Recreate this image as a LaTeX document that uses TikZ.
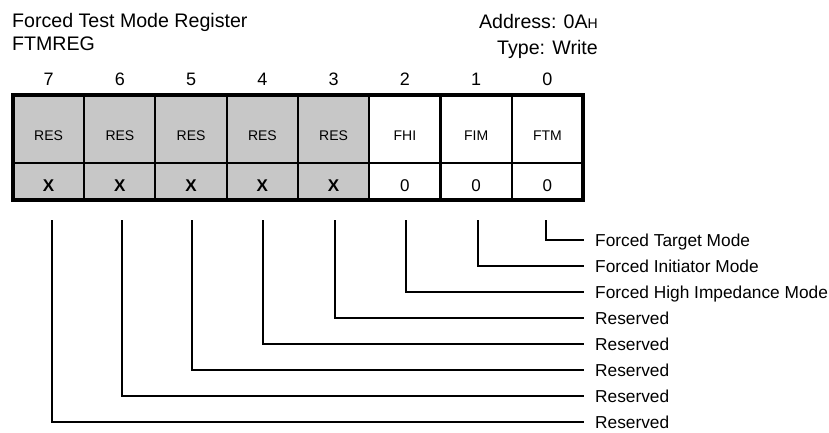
\documentclass[tikz,border=0pt]{standalone}
\usepackage{fontspec}
\setmainfont{Liberation Sans}
\begin{document}
\begin{tikzpicture}[x=1pt,y=-1pt,
  title/.style={font=\fontsize{19.6}{22}\selectfont, inner sep=0pt},
  bitnum/.style={font=\fontsize{18}{20}\selectfont, inner sep=0pt},
  cellbox/.style={draw, line width=2pt, minimum width=71.25pt, inner sep=0pt, outer sep=0pt},
  resfill/.style={fill=black!22},
  fieldtxt/.style={font=\fontsize{14}{16}\selectfont, inner sep=0pt},
  valtxt/.style={font=\fontsize{17}{19}\selectfont, inner sep=0pt},
  desc/.style={font=\fontsize{17.3}{19}\selectfont, anchor=west, inner sep=0pt, text height=12.2pt, text depth=0pt},
  conn/.style={line width=2pt, shorten >=11pt},
  outerframe/.style={line width=3.5pt}]
\useasboundingbox (0,0) rectangle (829,432);

% titles
\node[title, anchor=base west] (ttl) at (12,27.3) {Forced Test Mode Register};
\node[title, anchor=base west] (reg) at (12,50) {FTMREG};
\node[title, anchor=base east] (addr) at (598,28.3) {Address: 0A{\fontsize{14}{16}\selectfont H}};
\node[title, anchor=base east] (typ) at (598,54) {Type: Write};

% bit numbers
\foreach \b/\x in {7/48.6,6/119.9,5/191.1,4/262.4,3/333.6,2/404.9,1/476.1,0/547.4}{
  \node[bitnum] (b\b) at (\x,79) {\b};
}

% cells
\foreach \b/\x in {7/48.6,6/119.9,5/191.1,4/262.4,3/333.6}{
  \node[cellbox, resfill, minimum height=68pt] (c\b) at (\x,129) {};
  \node[cellbox, resfill, minimum height=37pt] (v\b) at (\x,181.5) {};
  \node[fieldtxt] (f\b) at (\x,135.5) {RES};
  \node[valtxt] (x\b) at (\x,186) {\textbf{X}};
}
\foreach \b/\x/\t in {2/404.9/FHI,1/476.1/FIM,0/547.4/FTM}{
  \node[cellbox, minimum height=68pt] (c\b) at (\x,129) {};
  \node[cellbox, minimum height=37pt] (v\b) at (\x,181.5) {};
  \node[fieldtxt] (f\b) at (\x,135.5) {\t};
  \node[valtxt] (x\b) at (\x,186) {0};
}
\draw[outerframe] (c7.north west) rectangle (v0.south east);

% descriptions
\node[desc] (l0) at (595,240) {Forced Target Mode};
\node[desc] (l1) at (595,266) {Forced Initiator Mode};
\node[desc] (l2) at (595,292) {Forced High Impedance Mode};
\node[desc] (l3) at (595,318) {Reserved};
\node[desc] (l4) at (595,344) {Reserved};
\node[desc] (l5) at (595,370) {Reserved};
\node[desc] (l6) at (595,396) {Reserved};
\node[desc] (l7) at (595,422) {Reserved};

% connectors
\foreach \b/\x in {7/52,6/122,5/192,4/263,3/335,2/406,1/478,0/546}{
  \coordinate (t\b) at (\x,220);
  \draw[conn] (t\b) |- (l\b.west);
}
\end{tikzpicture}
\end{document}
